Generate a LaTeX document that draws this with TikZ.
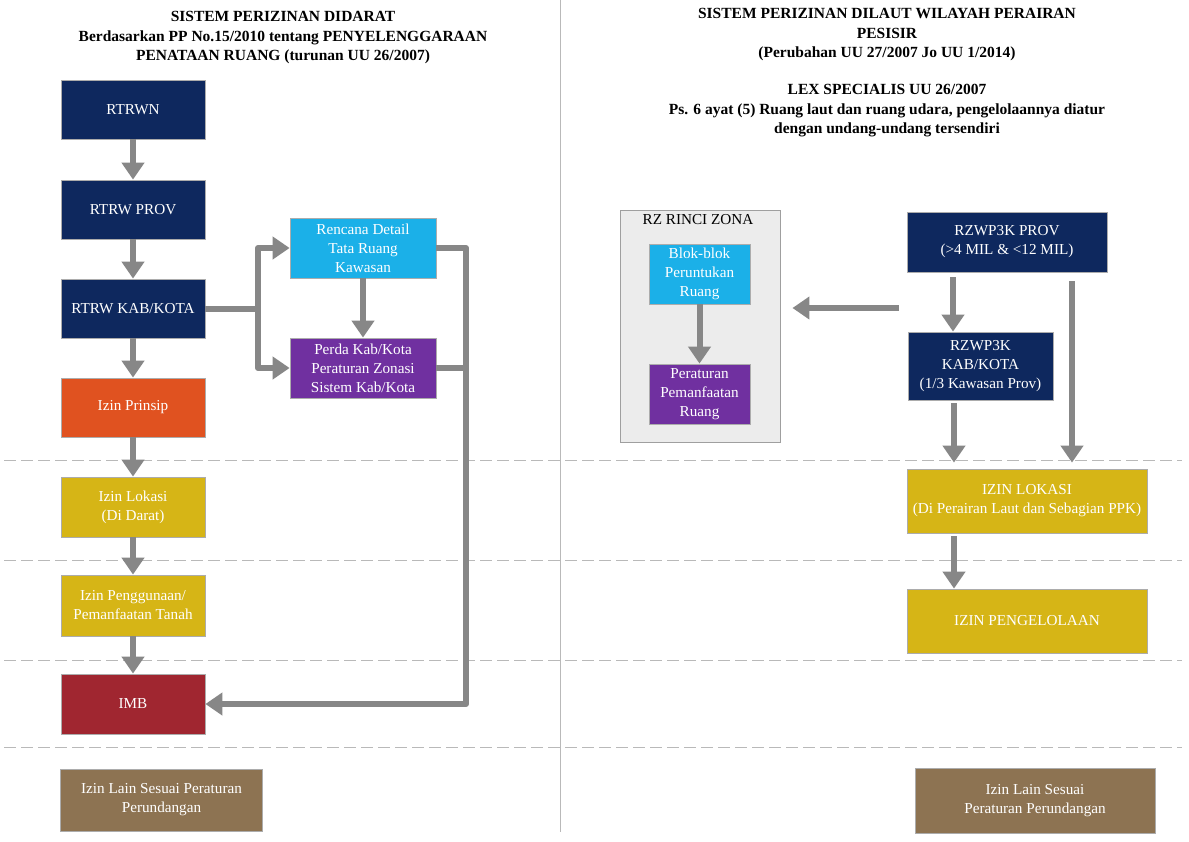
\documentclass[tikz,border=0pt]{standalone}
\usepackage{fontspec}
\setmainfont{Liberation Serif}
\usetikzlibrary{arrows.meta}
\definecolor{navy}{RGB}{14,40,94}
\definecolor{orng}{RGB}{224,82,32}
\definecolor{gold}{RGB}{214,181,22}
\definecolor{imbred}{RGB}{160,38,48}
\definecolor{skyb}{RGB}{27,176,232}
\definecolor{purp}{RGB}{112,48,160}
\definecolor{brwn}{RGB}{141,115,82}
\definecolor{arrgray}{RGB}{135,135,135}
\definecolor{grpbg}{RGB}{236,236,236}
\begin{document}
\begin{tikzpicture}[x=1pt,y=-1pt,
  box/.style={draw=gray!65, line width=0.8pt, text=white, align=center, inner sep=0pt,
    font=\fontsize{15.2}{19}\selectfont},
  arr/.style={draw=arrgray, line width=6pt, line join=round, -{Triangle[length=17pt,width=22pt]}},
  link/.style={draw=arrgray, line width=6pt},
  sepline/.style={draw=gray!55, dash pattern=on 12pt off 5pt, line width=0.9pt},
  ttl/.style={font=\bfseries\fontsize{15.5}{19.5}\selectfont, align=center, inner sep=0pt}]
\useasboundingbox (0,0) rectangle (1189,841);
\fill[white] (0,0) rectangle (1189,841);

% separators
\draw[draw=gray!55, line width=0.9pt] (560,0) -- (560,832);
\foreach \yy in {460,560,660,747} {\draw[sepline] (4,\yy) -- (1182,\yy);}

% titles
\node[ttl] (lt) at (283,38) {SISTEM PERIZINAN DIDARAT\\Berdasarkan PP No.15/2010 tentang PENYELENGGARAAN\\PENATAAN RUANG (turunan UU 26/2007)};
\node[ttl] (rt1) at (887,35) {SISTEM PERIZINAN DILAUT WILAYAH PERAIRAN\\PESISIR\\(Perubahan UU 27/2007 Jo UU 1/2014)};
\node[ttl] (rt2) at (887,111) {LEX SPECIALIS UU 26/2007\\Ps. 6 ayat (5) Ruang laut dan ruang udara, pengelolaannya diatur\\dengan undang-undang tersendiri};

% left column
\node[box, fill=navy, minimum width=144pt, minimum height=59pt] (rtrwn) at (133,109.5) {RTRWN};
\node[box, fill=navy, minimum width=144pt, minimum height=59pt] (prov) at (133,209.5) {RTRW PROV};
\node[box, fill=navy, minimum width=144pt, minimum height=59pt] (kab) at (133,308.5) {RTRW KAB/KOTA};
\node[box, fill=orng, minimum width=144pt, minimum height=59pt] (prinsip) at (133,407.5) {Izin Prinsip};
\node[box, fill=gold, minimum width=144pt, minimum height=60pt] (lokasi) at (133,507) {Izin Lokasi\\(Di Darat)};
\node[box, fill=gold, minimum width=144pt, minimum height=61pt] (guna) at (133,605.5) {Izin Penggunaan/\\Pemanfaatan Tanah};
\node[box, fill=imbred, minimum width=144pt, minimum height=60pt] (imb) at (133,704) {IMB};
\node[box, fill=brwn, minimum width=202pt, minimum height=62pt] (lain1) at (161.5,800) {Izin Lain Sesuai Peraturan\\Perundangan};
\node[box, fill=skyb, minimum width=146pt, minimum height=60pt] (rencana) at (363,248) {Rencana Detail\\Tata Ruang\\Kawasan};
\node[box, fill=purp, minimum width=146pt, minimum height=60pt] (perda) at (363,368) {Perda Kab/Kota\\Peraturan Zonasi\\Sistem Kab/Kota};

% left connectors
\draw[arr] (rtrwn) -- (prov);
\draw[arr] (prov) -- (kab);
\draw[arr] (kab) -- (prinsip);
\draw[arr] (prinsip) -- (lokasi);
\draw[arr] (lokasi) -- (guna);
\draw[arr] (guna) -- (imb);
\draw[arr] (rencana) -- (perda);
\coordinate (j) at (258,308.5);
\draw[link] (kab.east) -- (j);
\draw[arr] (j) |- (rencana.west);
\draw[arr] (j) |- (perda.west);
\coordinate (rc) at (466,704);
\draw[arr] (rencana.east) -| (rc) -- (imb.east);
\draw[link] (perda.east) -- (perda.east -| rc);

% right column
\node[draw=gray!75, line width=0.9pt, fill=grpbg, minimum width=160pt, minimum height=232pt, inner sep=0pt] (group) at (700,326) {};
\node[font=\fontsize{15.2}{19}\selectfont, inner sep=0pt] (glabel) at (698,220) {RZ RINCI ZONA};
\node[box, fill=skyb, minimum width=101pt, minimum height=60pt] (blok) at (699.5,274) {Blok-blok\\Peruntukan\\Ruang};
\node[box, fill=purp, minimum width=101pt, minimum height=60pt] (pemanf) at (699.5,394) {Peraturan\\Pemanfaatan\\Ruang};
\draw[arr] (blok) -- (pemanf);

\node[box, fill=navy, minimum width=200pt, minimum height=60pt] (rzprov) at (1007,242) {RZWP3K PROV\\(>4 MIL \& <12 MIL)};
\node[box, fill=navy, minimum width=145pt, minimum height=68pt] (rzkab) at (980.5,366) {RZWP3K\\KAB/KOTA\\(1/3 Kawasan Prov)};
\node[box, fill=gold, minimum width=240pt, minimum height=64pt] (izinlok) at (1027,501) {IZIN LOKASI\\(Di Perairan Laut dan Sebagian PPK)};
\node[box, fill=gold, minimum width=240pt, minimum height=64pt] (kelola) at (1027,621) {IZIN PENGELOLAAN};
\node[box, fill=brwn, minimum width=240pt, minimum height=65pt] (lain2) at (1035,800.5) {Izin Lain Sesuai\\Peraturan Perundangan};

\coordinate (tl) at (899,308);
\draw[arr, shorten >=12pt] (tl) -- (tl -| group.east);
\coordinate (xa) at (953,0);
\coordinate (xb) at (1072,0);
\coordinate (xc) at (954,0);
\draw[arr, shorten <=5pt] (rzprov.south -| xa) -- (rzkab.north -| xa);
\draw[arr, shorten <=9pt, shorten >=6pt] (rzprov.south -| xb) -- (izinlok.north -| xb);
\draw[arr, shorten <=3pt, shorten >=6pt] (rzkab.south -| xc) -- (izinlok.north -| xc);
\draw[arr, shorten <=3pt] (izinlok.south -| xc) -- (kelola.north -| xc);
\end{tikzpicture}
\end{document}
